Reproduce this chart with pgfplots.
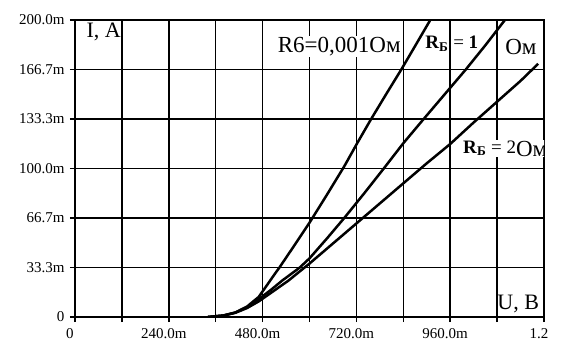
\documentclass[border=0pt]{standalone}
\usepackage{pgfplots}
\pgfplotsset{compat=1.18}
\usepackage{fontspec}
\setmainfont{Liberation Serif}
\begin{document}
\begin{tikzpicture}
\useasboundingbox (-75pt,-32pt) rectangle (489pt,317pt);
\begin{axis}[
  at={(0pt,0pt)}, anchor=south west,
  scale only axis, width=469pt, height=297pt,
  xmin=0, xmax=1.2, ymin=0, ymax=0.2,
  axis line style={black, line width=1.6pt},
  grid=major, grid style={black, line width=1.5pt},
  xtick={0,0.12,0.24,0.36,0.48,0.6,0.72,0.84,0.96,1.08,1.2},
  xticklabels={0,,240.0m,,480.0m,,720.0m,,960.0m,,1.2},
  ytick={0,0.033333,0.066667,0.1,0.133333,0.166667,0.2},
  yticklabels={0,33.3m,66.7m,100.0m,133.3m,166.7m,200.0m},
  tick align=outside, tick pos=left,
  major tick length=5pt,
  tick style={black, line width=1.5pt},
  ticklabel style={font=\fontsize{15}{15}\selectfont},
  xticklabel style={yshift=-3pt, xshift=-5pt},
  yticklabel style={xshift=-2pt},
  scaled ticks=false,
  clip=true,
]
\addplot[black, line width=2.5pt] coordinates {
(0.34,0) (0.38,0.001) (0.41,0.003) (0.44,0.007) (0.47,0.0135) (0.49,0.021) (0.512,0.0293) (0.523,0.0333) (0.562,0.0485) (0.60,0.0635) (0.645,0.0825) (0.689,0.1015) (0.723,0.1175) (0.757,0.133) (0.796,0.150) (0.835,0.1667) (0.872,0.1833) (0.909,0.2)
};
\addplot[black, line width=2.5pt] coordinates {
(0.34,0) (0.38,0.001) (0.41,0.003) (0.44,0.0065) (0.47,0.012) (0.50,0.018) (0.53,0.0245) (0.575,0.0333) (0.60,0.0395) (0.645,0.053) (0.689,0.0667) (0.74,0.0833) (0.79,0.1) (0.84,0.117) (0.892,0.1333) (0.946,0.150) (1.0,0.1667) (1.05,0.183) (1.10,0.2)
};
\addplot[black, line width=2.5pt] coordinates {
(0.34,0) (0.38,0.001) (0.41,0.0028) (0.44,0.006) (0.47,0.0105) (0.50,0.016) (0.546,0.0245) (0.60,0.036) (0.66,0.0495) (0.72,0.063) (0.78,0.0765) (0.84,0.090) (0.90,0.1035) (0.96,0.1165) (1.02,0.131) (1.08,0.145) (1.14,0.159) (1.185,0.1705)
};
\node[font=\fontsize{22}{22}\selectfont, inner sep=1pt] at (axis cs:0.0735,0.192) {I, A};
\node[font=\fontsize{22}{22}\selectfont, inner sep=1pt] at (axis cs:1.134,0.0086) {U, B};
\node[font=\fontsize{23}{23}\selectfont, inner sep=1pt, fill=white] at (axis cs:0.676,0.182) {R6=0,001Ом};
\node[font=\fontsize{19}{19}\selectfont, inner sep=0pt] at (axis cs:0.964,0.184) {\textbf{R}\textsubscript{\textbf{Б}} = \textbf{1}};
\node[font=\fontsize{23}{23}\selectfont, inner sep=1pt, fill=white] at (axis cs:1.141,0.182) {Ом};
\node[font=\fontsize{19}{19}\selectfont, inner sep=1pt, fill=white, anchor=west] at (axis cs:0.99,0.1135) {\textbf{R}\textsubscript{\textbf{Б}} = 2\raisebox{-3pt}{\fontsize{23}{23}\selectfont Ом}};
\end{axis}
\end{tikzpicture}
\end{document}
